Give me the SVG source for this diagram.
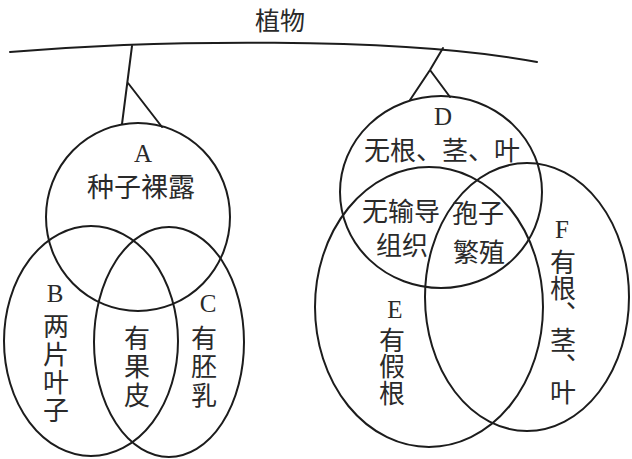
<svg xmlns="http://www.w3.org/2000/svg" width="632" height="459" viewBox="0 0 632 459">
<style>
.ln{fill:none;stroke:#1c1c1c;stroke-width:2;stroke-linecap:round}
.sh{fill:none;stroke:#1c1c1c;stroke-width:2}
.zh{font-family:"Noto Sans CJK SC","Noto Sans CJK TC",sans-serif;font-size:26px;fill:#2a2a2a;text-anchor:middle}
.lt{font-family:"Liberation Serif",serif;font-size:25px;fill:#2a2a2a;text-anchor:middle}
.vt{font-family:"Noto Sans CJK SC","Noto Sans CJK TC",sans-serif;font-size:26px;fill:#2a2a2a;writing-mode:vertical-rl;text-anchor:start}
</style>
<rect width="632" height="459" fill="#ffffff"/>
<g id="root">
<text class="zh" x="280" y="30" style="font-size:25px">植物</text>
</g>
<g id="connectors">
<path class="ln" d="M10 52 C150 40 400 36 537 62"/>
<path class="ln" d="M132 46 L122 124 M128 83 L162 127"/>
<path class="ln" d="M443 48 L430 70 L410 100 M430 70 L450 97"/>
</g>
<g id="A">
<ellipse class="sh" cx="138" cy="217" rx="92" ry="94"/>
<text class="lt" x="143" y="162">A</text>
<text class="zh" x="141" y="197" style="font-size:27px">种子裸露</text>
</g>
<g id="B">
<ellipse class="sh" cx="91" cy="341" rx="87" ry="115"/>
<text class="lt" x="55" y="302">B</text>
<text class="vt" x="56" y="313" style="letter-spacing:2px">两片叶子</text>
</g>
<g id="C">
<ellipse class="sh" cx="169" cy="342" rx="75" ry="115"/>
<text class="lt" x="208" y="312">C</text>
<text class="vt" x="204" y="325" style="letter-spacing:2.5px">有胚乳</text>
</g>
<g id="BC">
<text class="vt" x="137" y="325" style="letter-spacing:2.5px">有果皮</text>
</g>
<g id="D">
<ellipse class="sh" cx="441" cy="192" rx="101" ry="96"/>
<text class="lt" x="443" y="125">D</text>
<text class="zh" x="442" y="160">无根、茎、叶</text>
</g>
<g id="E">
<ellipse class="sh" cx="429" cy="307" rx="114" ry="140"/>
<text class="lt" x="395" y="318">E</text>
<text class="vt" x="392" y="327" style="letter-spacing:0.5px">有假根</text>
</g>
<g id="F">
<ellipse class="sh" cx="527" cy="297" rx="102" ry="134"/>
<text class="lt" x="562" y="238">F</text>
<text class="vt" x="563" y="249">有根、茎、叶</text>
</g>
<g id="DE">
<text class="zh" x="401" y="221">无输导<tspan x="402" y="255">组织</tspan></text>
</g>
<g id="DEF">
<text class="zh" x="478" y="223">孢子<tspan x="479" y="262">繁殖</tspan></text>
</g>
</svg>
